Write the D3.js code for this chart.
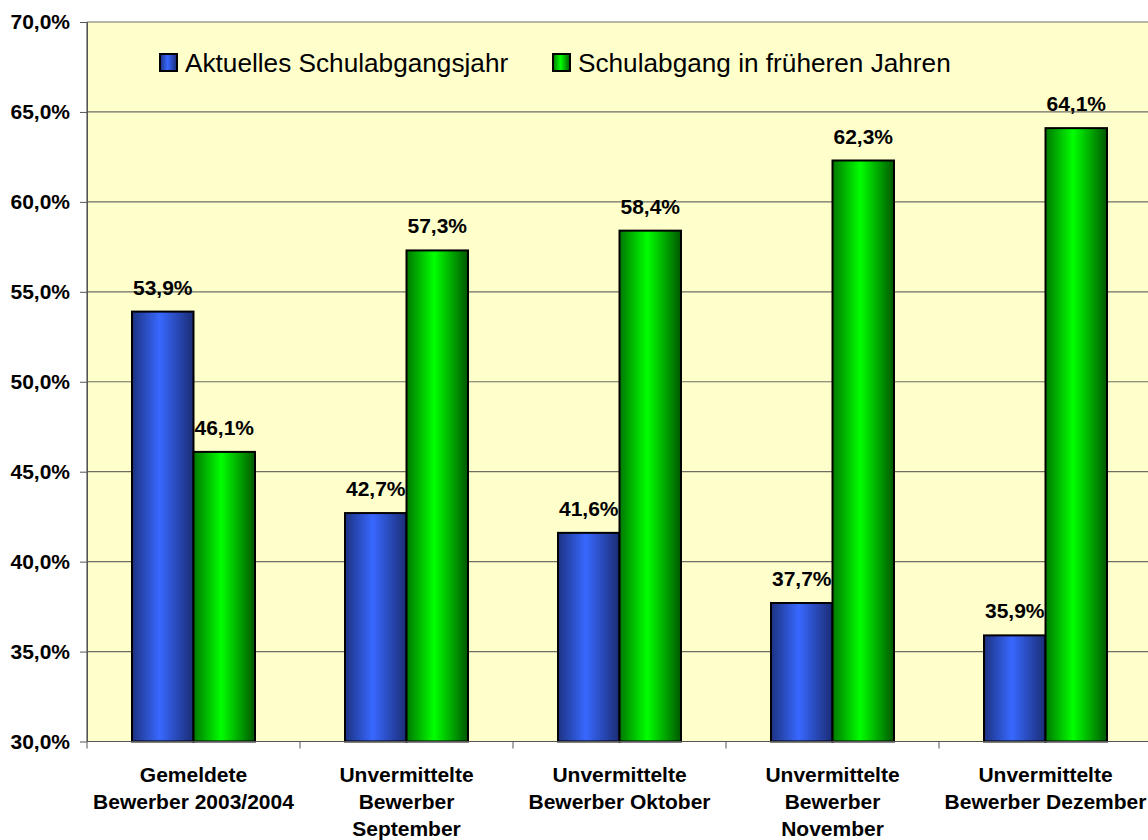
<!DOCTYPE html>
<html>
<head>
<meta charset="utf-8">
<title>Schulabgang</title>
<script src="https://cdn.jsdelivr.net/npm/d3@7"></script>
<style>
  body { margin: 0; background: #fff; }
  svg { display: block; font-family: Arial, "Liberation Sans", sans-serif; }
</style>
</head>
<body>
<div id="chart"></div>
<script>
// categories, series and values
var categories = [
  ["Gemeldete", "Bewerber 2003/2004"],
  ["Unvermittelte", "Bewerber", "September"],
  ["Unvermittelte", "Bewerber Oktober"],
  ["Unvermittelte", "Bewerber", "November"],
  ["Unvermittelte", "Bewerber Dezember"]
];
var seriesNames = ["Aktuelles Schulabgangsjahr", "Schulabgang in früheren Jahren"];
var aktuell = [0.539, 0.427, 0.416, 0.377, 0.359];
var frueher = [0.461, 0.573, 0.584, 0.623, 0.641];
var yTicks = [0.30, 0.35, 0.40, 0.45, 0.50, 0.55, 0.60, 0.65, 0.70];

(function drawChart(){
  var width = 1148, height = 840;
  var plot = {left: 87, right: 1152, top: 22, bottom: 741.5};

  var de = d3.formatLocale({decimal: ",", thousands: ".", grouping: [3], currency: ["", " €"]});
  var pct = de.format(".1%");

  var svg = d3.select("#chart").append("svg")
    .attr("width", width)
    .attr("height", height);

  var defs = svg.append("defs");
  var grads = [
    {id: "gBlue", stops: [["0%", "#1c3282"], ["45%", "#3868ff"], ["100%", "#1a2c74"]]},
    {id: "gGreen", stops: [["0%", "#007800"], ["45%", "#00ff00"], ["100%", "#005800"]]}
  ];
  grads.forEach(function(g){
    var lg = defs.append("linearGradient").attr("id", g.id)
      .attr("x1", 0).attr("x2", 1).attr("y1", 0).attr("y2", 0);
    g.stops.forEach(function(s){
      lg.append("stop").attr("offset", s[0]).attr("stop-color", s[1]);
    });
  });
  var fills = ["url(#gBlue)", "url(#gGreen)"];

  var idx = d3.range(categories.length);
  var pad = 90 / 213;
  var x0 = d3.scaleBand()
    .domain(idx)
    .range([plot.left, plot.right])
    .paddingInner(pad)
    .paddingOuter(pad / 2);
  var x1 = d3.scaleBand()
    .domain([0, 1])
    .range([0, x0.bandwidth()]);
  var y = d3.scaleLinear()
    .domain([0.30, 0.70])
    .range([plot.bottom, plot.top]);

  // plot area
  svg.append("rect")
    .attr("x", plot.left).attr("y", plot.top)
    .attr("width", plot.right - plot.left)
    .attr("height", plot.bottom - plot.top)
    .attr("fill", "#ffffcc");

  // gridlines
  svg.append("g").selectAll("line")
    .data(yTicks)
    .join("line")
    .attr("x1", plot.left).attr("x2", plot.right)
    .attr("y1", d => y(d)).attr("y2", d => y(d))
    .attr("stroke", "#6e6e66").attr("stroke-width", 1.2);

  // y axis
  var yAxis = d3.axisLeft(y).tickValues(yTicks).tickFormat(pct).tickSizeInner(7).tickSizeOuter(0).tickPadding(10);
  var gy = svg.append("g").attr("transform", "translate(" + plot.left + ",0)").call(yAxis);
  gy.select(".domain").attr("stroke", "#555");
  gy.selectAll(".tick line").attr("stroke", "#555");
  gy.selectAll("text")
    .attr("font-size", "21px").attr("font-weight", "bold").attr("fill", "#000");

  // bars
  var series = [aktuell, frueher];
  series.forEach(function(vals, s){
    svg.append("g").selectAll("rect")
      .data(vals)
      .join("rect")
      .attr("x", (d, i) => x0(i) + x1(s))
      .attr("y", d => y(d))
      .attr("width", x1.bandwidth())
      .attr("height", d => y(0.30) - y(d))
      .attr("fill", fills[s])
      .attr("stroke", "#000")
      .attr("stroke-width", 2);
  });

  // x axis line + category ticks
  var step = x0.step();
  var edges = d3.range(categories.length + 1).map(i => plot.left + i * step);
  svg.append("line")
    .attr("x1", plot.left).attr("x2", plot.right)
    .attr("y1", plot.bottom).attr("y2", plot.bottom)
    .attr("stroke", "#555").attr("stroke-width", 1.2);
  svg.append("g").selectAll("line")
    .data(edges)
    .join("line")
    .attr("x1", d => d).attr("x2", d => d)
    .attr("y1", plot.bottom).attr("y2", plot.bottom + 7)
    .attr("stroke", "#555");

  // left axis drawn again over bars
  svg.append("line")
    .attr("x1", plot.left).attr("x2", plot.left)
    .attr("y1", plot.top).attr("y2", plot.bottom)
    .attr("stroke", "#555").attr("stroke-width", 1.2);

  // value labels
  series.forEach(function(vals, s){
    svg.append("g").selectAll("text")
      .data(vals)
      .join("text")
      .attr("x", (d, i) => x0(i) + x1(s) + x1.bandwidth() / 2)
      .attr("y", d => y(d) - 17)
      .attr("text-anchor", "middle")
      .attr("font-size", "21px")
      .attr("font-weight", "bold")
      .text(d => pct(d));
  });

  // category labels
  var cg = svg.append("g").selectAll("text")
    .data(categories)
    .join("text")
    .attr("x", (d, i) => x0(i) + x0.bandwidth() / 2)
    .attr("y", 782)
    .attr("text-anchor", "middle")
    .attr("font-size", "21px")
    .attr("font-weight", "bold");
  cg.selectAll("tspan")
    .data(d => d)
    .join("tspan")
    .attr("x", function(){ return this.parentNode.getAttribute("x"); })
    .attr("dy", (d, j) => j === 0 ? 0 : 26.8)
    .text(d => d);

  // legend
  var legendX = [160, 553];
  var lg = svg.append("g").selectAll("g")
    .data(seriesNames)
    .join("g")
    .attr("transform", (d, i) => "translate(" + legendX[i] + ",54)");
  lg.append("rect")
    .attr("width", 17).attr("height", 17)
    .attr("fill", (d, i) => fills[i])
    .attr("stroke", "#000").attr("stroke-width", 2);
  lg.append("text")
    .attr("x", 25).attr("y", 18)
    .attr("font-size", "26.2px")
    .text(d => d);
})();
</script>
</body>
</html>
